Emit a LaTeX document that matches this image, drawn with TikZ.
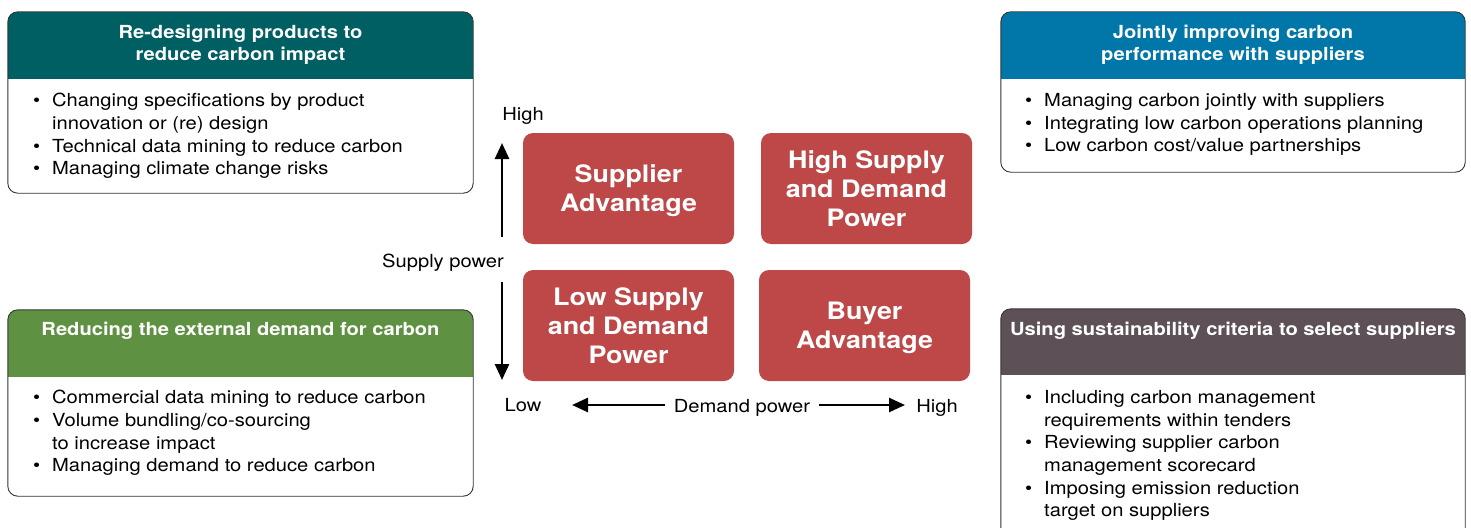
\documentclass[tikz,border=0pt]{standalone}
\usepackage{fontspec}
\setmainfont{TeX Gyre Heros}[FakeStretch=1.12]
\usetikzlibrary{arrows.meta}
\definecolor{hdteal}{HTML}{005F63}
\definecolor{hdblue}{HTML}{0077A8}
\definecolor{hdgreen}{HTML}{5F9142}
\definecolor{hdgrey}{HTML}{5E5057}
\definecolor{quadred}{HTML}{BE4848}
\newcommand{\bl}{\makebox[19pt][l]{\textbullet}}
\newcommand{\ind}{\hspace*{19pt}}
\begin{document}
\begin{tikzpicture}[x=1pt,y=-1pt,
  panel/.style={inner sep=0pt,fill=white},
  head/.style={anchor=north,inner sep=0pt,text=white,align=center,font=\bfseries\fontsize{18}{22}\selectfont},
  body/.style={anchor=north west,inner sep=0pt,align=left,font=\fontsize{18}{22.7}\selectfont},
  quad/.style={fill=quadred,rounded corners=10pt,minimum width=211pt,minimum height=111pt,inner sep=0pt,text depth=0pt,text=white,align=center,font=\bfseries\fontsize{24}{29}\selectfont},
  lbl/.style={inner sep=0pt,font=\fontsize{18}{22}\selectfont},
  axis/.style={line width=2.6pt,-{Triangle[length=16pt,width=14pt]}}]

  \useasboundingbox (0,0) rectangle (1471,527);
  \clip (0,0) rectangle (1471,527);

  \node[panel,minimum width=465pt,minimum height=181pt] (rd) at (240.5,102.5) {};
  \node[panel,minimum width=464pt,minimum height=160pt] (jp) at (1233,92) {};
  \node[panel,minimum width=465pt,minimum height=186pt] (re) at (240.5,403) {};
  \node[panel,minimum width=464pt,minimum height=231pt] (us) at (1233,424.5) {};

  \foreach \p/\c/\h in {rd/hdteal/67,jp/hdblue/67,re/hdgreen/67,us/hdgrey/66}{
    \begin{scope}
      \clip[rounded corners=10pt] (\p.north west) rectangle (\p.south east);
      \fill[\c] (\p.north west) rectangle ([yshift=-\h pt]\p.north east);
    \end{scope}
    \draw[rounded corners=10pt,color=black!80,line width=0.9pt] (\p.north west) rectangle (\p.south east);
  }

  \node[head] (rdh) at (240.5,25) {Re-designing products to\\reduce carbon impact};
  \node[head] (jph) at (1233,25) {Jointly improving carbon\\performance with suppliers};
  \node[head] (reh) at (240.5,322) {Reducing the external demand for carbon};
  \node[head] (ush) at (1233,322) {Using sustainability criteria to select suppliers};

  \node[body] (rdb) at (33,93) {\bl Changing specifications by product\\\ind innovation or (re) design\\
    \bl Technical data mining to reduce carbon\\\bl Managing climate change risks};
  \node[body] (jpb) at (1025,93) {\bl Managing carbon jointly with suppliers\\
    \bl Integrating low carbon operations planning\\\bl Low carbon cost/value partnerships};
  \node[body] (reb) at (33,390) {\bl Commercial data mining to reduce carbon\\
    \bl Volume bundling/co-sourcing\\\ind to increase impact\\\bl Managing demand to reduce carbon};
  \node[body] (usb) at (1025,390) {\bl Including carbon management\\\ind requirements within tenders\\
    \bl Reviewing supplier carbon\\\ind management scorecard\\
    \bl Imposing emission reduction\\\ind target on suppliers};

  \node[quad] (sa) at (628.5,188.5) {Supplier\\Advantage};
  \node[quad] (hs) at (866.5,188.5) {High Supply\\and Demand\\Power};
  \node[quad] (ls) at (628.5,325.5) {Low Supply\\and Demand\\Power};
  \node[quad] (ba) at (864.5,325.5) {Buyer\\Advantage};

  \node[lbl] (sh) at (523,116) {High};
  \node[lbl] (sp) at (443,263) {Supply power};
  \node[lbl] (sl) at (523,405) {Low};
  \node[lbl,inner sep=9pt] (dp) at (742,408) {Demand power};
  \node[lbl] (dh) at (937,408) {High};

  \coordinate (upb) at (502,237);
  \coordinate (upt) at (502,143);
  \coordinate (dnb) at (502,282);
  \coordinate (dnt) at (502,380);
  \coordinate (lft) at (572,405);
  \coordinate (rgt) at (905,405);

  \draw[axis] (upb) -- (upt);
  \draw[axis] (dnb) -- (dnt);
  \draw[axis] (dp.west |- lft) -- (lft);
  \draw[axis] (dp.east |- rgt) -- (rgt);

\end{tikzpicture}
\end{document}
